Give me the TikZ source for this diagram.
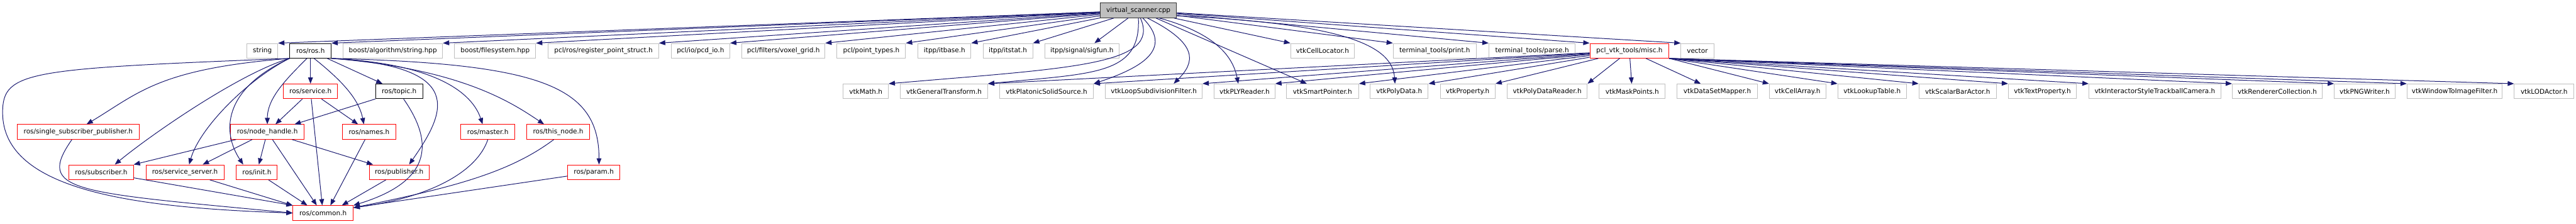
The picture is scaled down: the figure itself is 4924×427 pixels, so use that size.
\documentclass[tikz,border=0pt]{standalone}
\usepackage{fontspec}
\setmainfont{DejaVu Sans}
\usetikzlibrary{arrows.meta}
\definecolor{edgeblue}{HTML}{191970}
\definecolor{boxgray}{HTML}{BFBFBF}
\tikzset{>={Triangle[length=6pt,width=4.6pt]},every node/.style={font=\fontsize{6.3}{7.5}\selectfont,rectangle,inner sep=0pt,minimum height=14pt,line width=.6pt},
ext/.style={draw=boxgray},docf/.style={draw=black},redf/.style={draw=red},rootf/.style={draw=black!80,fill=boxgray},
boxw/.style={minimum width=#1*.5pt},inc/.style={draw=edgeblue,line width=.6pt,->}}

\begin{document}
\begin{tikzpicture}[x=.5pt,y=-.5pt]
\useasboundingbox (0,0) rectangle (4924,427);
% the file itself
\node[rootf,boxw=146] (vs) at (2176,20) {virtual\_scanner.cpp};
% first row of headers
\node[ext,boxw=59] (str) at (501.5,97) {string};\node[docf,boxw=79] (ros) at (593.5,97) {ros/ros.h};
\node[ext,boxw=190] (balg) at (751,97) {boost/algorithm/string.hpp};\node[ext,boxw=155] (bfs) at (946.5,97) {boost/filesystem.hpp};
\node[ext,boxw=211] (preg) at (1153.5,97) {pcl/ros/register\_point\_struct.h};\node[ext,boxw=112] (pcd) at (1339,97) {pcl/io/pcd\_io.h};
\node[ext,boxw=159] (vox) at (1497.5,97) {pcl/filters/voxel\_grid.h};\node[ext,boxw=131] (ptyp) at (1665.5,97) {pcl/point\_types.h};
\node[ext,boxw=101] (itb) at (1805.5,97) {itpp/itbase.h};\node[ext,boxw=95] (its) at (1926.5,97) {itpp/itstat.h};
\node[ext,boxw=142] (sigf) at (2068,97) {itpp/signal/sigfun.h};\node[ext,boxw=122] (cloc) at (2528,97) {vtkCellLocator.h};
\node[ext,boxw=159] (tprint) at (2742.5,97) {terminal\_tools/print.h};\node[ext,boxw=165] (tparse) at (2928.5,97) {terminal\_tools/parse.h};
\node[redf,boxw=151] (misc) at (3114.5,97) {pcl\_vtk\_tools/misc.h};\node[ext,boxw=63] (vec) at (3244.5,97) {vector};
% second row
\node[redf,boxw=103] (srv) at (593.5,174.5) {ros/service.h};\node[docf,boxw=90] (topic) at (763,174.5) {ros/topic.h};
\node[ext,boxw=86] (vmath) at (1655,174.5) {vtkMath.h};\node[ext,boxw=167] (vgt) at (1804.5,174.5) {vtkGeneralTransform.h};
\node[ext,boxw=179] (vpss) at (2000.5,174.5) {vtkPlatonicSolidSource.h};\node[ext,boxw=185] (vlsf) at (2205.5,174.5) {vtkLoopSubdivisionFilter.h};
\node[ext,boxw=116] (vply) at (2379,174.5) {vtkPLYReader.h};\node[ext,boxw=138] (vsp) at (2528,174.5) {vtkSmartPointer.h};
\node[ext,boxw=111] (vpd) at (2674.5,174.5) {vtkPolyData.h};\node[ext,boxw=105] (vprop) at (2805.5,174.5) {vtkProperty.h};
\node[ext,boxw=153] (vpdr) at (2957.5,174.5) {vtkPolyDataReader.h};\node[ext,boxw=126] (vmask) at (3120,174.5) {vtkMaskPoints.h};
\node[ext,boxw=153] (vdsm) at (3282.5,174.5) {vtkDataSetMapper.h};\node[ext,boxw=108] (vca) at (3436,174.5) {vtkCellArray.h};
\node[ext,boxw=131] (vlut) at (3578.5,174.5) {vtkLookupTable.h};\node[ext,boxw=148] (vsba) at (3742,174.5) {vtkScalarBarActor.h};
\node[ext,boxw=130] (vtp) at (3904,174.5) {vtkTextProperty.h};\node[ext,boxw=252] (vistc) at (4119,174.5) {vtkInteractorStyleTrackballCamera.h};
\node[ext,boxw=172] (vrc) at (4353,174.5) {vtkRendererCollection.h};\node[ext,boxw=116] (vpng) at (4520,174.5) {vtkPNGWriter.h};
\node[ext,boxw=182] (vwif) at (4692,174.5) {vtkWindowToImageFilter.h};\node[ext,boxw=114] (vlod) at (4863,174.5) {vtkLODActor.h};
% ros internals
\node[redf,boxw=233] (ssp) at (149.5,252) {ros/single\_subscriber\_publisher.h};\node[redf,boxw=140] (nh) at (511,252) {ros/node\_handle.h};
\node[redf,boxw=103] (names) at (705.5,252) {ros/names.h};\node[redf,boxw=103] (master) at (932.5,252) {ros/master.h};
\node[redf,boxw=120] (thisn) at (1067,252) {ros/this\_node.h};
\node[redf,boxw=123] (sub) at (193.5,329) {ros/subscriber.h};\node[redf,boxw=149] (ssrv) at (353.5,329) {ros/service\_server.h};
\node[redf,boxw=78] (init) at (491,329) {ros/init.h};\node[redf,boxw=114] (pub) at (763,329) {ros/publisher.h};
\node[redf,boxw=100] (param) at (1135,329) {ros/param.h};
\node[redf,boxw=115] (common) at (617.5,407) {ros/common.h};
% includes of virtual_scanner.cpp
\draw[inc] (vs) -- (str.north east);\draw[inc] (vs) -- (ros.north east);\draw[inc] (vs) -- (balg.north east);\draw[inc] (vs) -- (bfs.north east);
\draw[inc] (vs) -- (preg.north east);\draw[inc] (vs) -- (pcd.north east);\draw[inc] (vs) -- (vox.north east);\draw[inc] (vs) -- (ptyp.north east);
\draw[inc] (vs) -- (itb.north east);\draw[inc] (vs) -- (its.north east);\draw[inc] (vs) -- ([xshift=12pt]sigf.north);
\draw[inc] (vs) -- (cloc.north west);\draw[inc] (vs) -- (tprint.north west);\draw[inc] (vs) -- (tparse.north west);
\draw[inc] (vs) -- (misc.north west);\draw[inc] (vs) -- (vec.north west);
\draw[inc] (vs.-75) .. controls +(40,90) and +(350,-30) .. (vmath.north east);
\draw[inc] (vs.south) .. controls +(5,110) and +(200,-20) .. (vgt.north east);
\draw[inc] (vs.-60) .. controls +(60,60) and +(90,-30) .. (vpss.north east);
\draw[inc] (vs.-40) .. controls +(100,50) and +(40,-40) .. ([xshift=19pt]vlsf.north);
\draw[inc] (vs.-20) .. controls +(110,30) and +(-10,-50) .. ([xshift=-6pt]vply.north);
\draw[inc] (vs) -- ([xshift=-15pt]vsp.north);
\draw[inc] (vs.-8) .. controls +(330,15) and +(-5,-70) .. ([xshift=-4pt]vpd.north);
% includes of misc.h
\draw[inc] (misc) -- (vgt.north east);\draw[inc] (misc) -- (vpss.north east);\draw[inc] (misc) -- (vlsf.north east);\draw[inc] (misc) -- (vply.north east);
\draw[inc] (misc) -- (vsp.north east);\draw[inc] (misc) -- (vpd.north east);\draw[inc] (misc) -- (vprop.north east);\draw[inc] (misc) -- (vpdr.north east);
\draw[inc] (misc) -- (vmask);\draw[inc] (misc) -- (vdsm);
\draw[inc] (misc.south east) -- (vca.north west);\draw[inc] (misc.south east) -- (vlut.north west);\draw[inc] (misc.south east) -- (vsba.north west);
\draw[inc] (misc.south east) -- (vtp.north west);\draw[inc] (misc.south east) -- (vistc.north west);\draw[inc] (misc.south east) -- (vrc.north west);
\draw[inc] (misc.south east) -- (vpng.north west);\draw[inc] (misc.south east) -- (vwif.north west);\draw[inc] (misc.south east) -- (vlod.north west);
% includes of ros.h
\draw[inc] (ros) -- (srv);\draw[inc] (ros) -- (topic);
\draw[inc] (ros.-115) .. controls +(-40,40) and +(0,-50) .. (nh.north);
\draw[inc] (ros.-65) .. controls +(50,40) and +(-10,-50) .. ([xshift=-5pt]names.north);
\draw[inc] (ros.south east) .. controls +(260,15) and +(70,-100) .. ([xshift=9.5pt]pub.north);
\draw[inc] (ros.south east) .. controls +(200,10) and +(-20,-60) .. ([xshift=-5pt]master.north);
\draw[inc] (ros.south east) .. controls +(250,20) and +(-60,-40) .. ([xshift=-13.5pt]thisn.north);
\draw[inc] (ros.south east) .. controls +(400,10) and +(0,-150) .. ([xshift=5pt]param.north);
\draw[inc] (ros.south west) .. controls +(-250,20) and +(100,-60) .. ([xshift=8pt]ssp.north);
\draw[inc] (ros.south west) .. controls +(-100,30) and +(60,-50) .. ([xshift=13pt]sub.north);
\draw[inc] (ros.south west) .. controls +(-80,40) and +(20,-70) .. ([xshift=4pt]ssrv.north);
\draw[inc] (ros.south west) .. controls +(-130,60) and +(-40,-60) .. ([xshift=-13pt]init.north);
\coordinate (loopL) at (5,215);
\draw[inc] (ros.south west) .. controls +(-500,20) and +(0,-80) .. (loopL) .. controls +(0,150) and +(-300,-10) .. (common.west);
% the rest of the ros headers
\draw[inc] (srv) -- (nh);\draw[inc] (srv) -- (names);\draw[inc] (srv) -- (common);
\draw[inc] (topic.south west) -- ([xshift=26pt]nh.north);
\draw[inc] (topic.-60) .. controls +(70,100) and +(130,-40) .. (common.north east);
\draw[inc] (nh) -- (sub.north east);\draw[inc] (nh) -- ([xshift=17pt]ssrv.north);\draw[inc] (nh) -- (init);
\draw[inc] (nh) -- ([xshift=-6pt]common.north);\draw[inc] (nh) -- ([xshift=-25pt]pub.north);
\draw[inc] (names) -- ([xshift=7pt]common.north);\draw[inc] (pub) -- ([xshift=18pt]common.north);\draw[inc] (init) -- ([xshift=-15pt]common.north);
\draw[inc] (master.south) .. controls +(-20,60) and +(150,-20) .. (common.10);
\draw[inc] (thisn.-120) .. controls +(-80,60) and +(200,-40) .. (common.10);
\draw[inc] (param) -- (common.10);
\draw[inc] (sub) -- (common.north west);\draw[inc] (ssrv) -- (common.north west);
\draw[inc] ([xshift=-6pt]ssp.south) .. controls +(-70,100) and +(-420,-40) .. (common.west);
\end{tikzpicture}
\end{document}
